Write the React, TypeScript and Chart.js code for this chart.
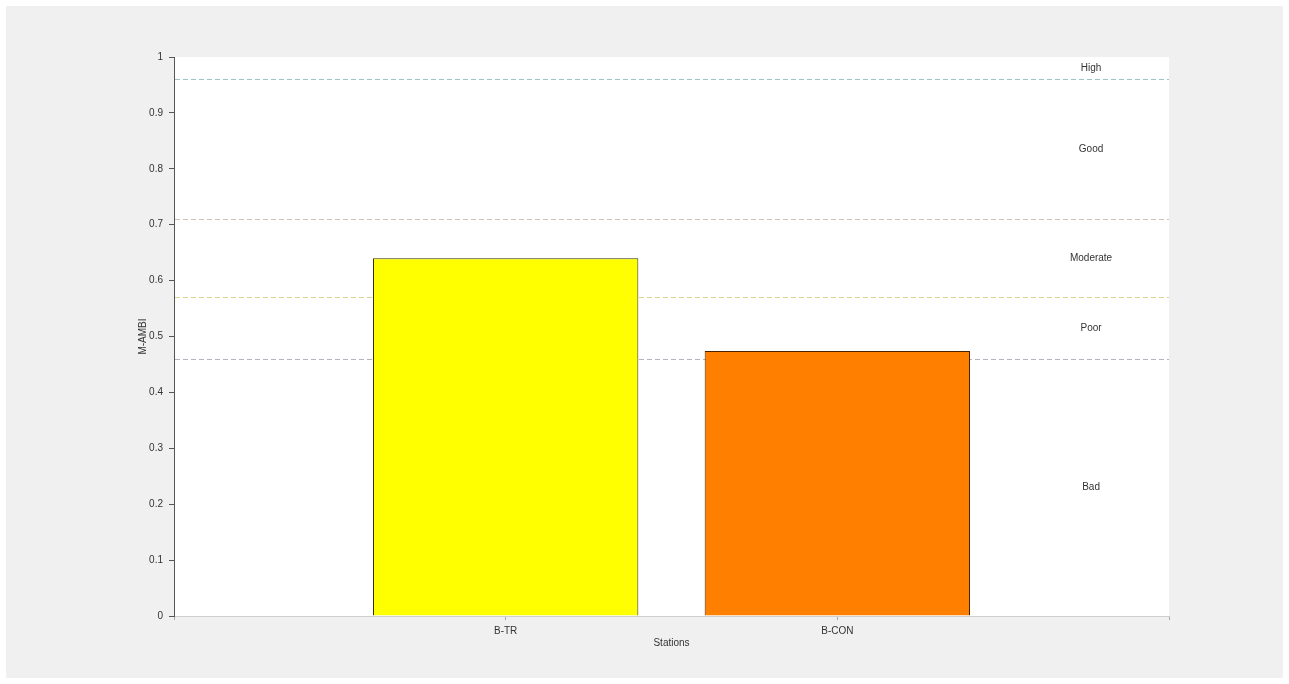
import React, { useEffect, useRef } from "react";
import { Chart, registerables } from "chart.js";

Chart.register(...registerables);

const categories = ["", "B-TR", "B-CON", ""];
const mAmbiValues = [null, 0.64, 0.474, null];
const barColors = ["#ffff00", "#ffff00", "#ff8000", "#ff8000"];
const barBorders = ["#333300", "#333300", "#4a2200", "#4a2200"];

const thresholds = [0.96, 0.71, 0.57, 0.46];
const thresholdColors = ["#9cc4c4", "#d0c6b0", "#d6d68e", "#b8b0bc"];
const bandBounds = [1, 0.96, 0.71, 0.57, 0.46, 0];
const bandLabels = ["High", "Good", "Moderate", "Poor", "Bad"];
const bandLabelX = 2.765;

const yTicks = [0, 0.1, 0.2, 0.3, 0.4, 0.5, 0.6, 0.7, 0.8, 0.9, 1];

const FONT = "'Liberation Sans', Arial, sans-serif";

export default function App() {
  const ref = useRef<HTMLCanvasElement | null>(null);

  useEffect(() => {
    if (!ref.current) return;

    const bgPlugin = {
      id: "plotBg",
      beforeDraw(chart: any) {
        const { ctx, chartArea } = chart;
        ctx.save();
        ctx.fillStyle = "#ffffff";
        ctx.fillRect(chartArea.left, chartArea.top, chartArea.right - chartArea.left, chartArea.bottom - chartArea.top);
        ctx.restore();
      },
    };

    const linesPlugin = {
      id: "thresholdLines",
      beforeDatasetsDraw(chart: any) {
        const { ctx, chartArea, scales } = chart;
        ctx.save();
        ctx.lineWidth = 1;
        ctx.setLineDash([5, 3]);
        thresholds.forEach((t, i) => {
          const y = Math.round(scales.y.getPixelForValue(t)) + 0.5;
          ctx.strokeStyle = thresholdColors[i];
          ctx.beginPath();
          ctx.moveTo(chartArea.left + 1, y);
          ctx.lineTo(chartArea.right, y);
          ctx.stroke();
        });
        ctx.restore();
      },
      afterDraw(chart: any) {
        const { ctx, scales } = chart;
        ctx.save();
        ctx.fillStyle = "#333333";
        ctx.font = `10px ${FONT}`;
        ctx.textAlign = "center";
        ctx.textBaseline = "middle";
        const x = scales.x.getPixelForValue(bandLabelX);
        bandLabels.forEach((lbl, i) => {
          const mid = (bandBounds[i] + bandBounds[i + 1]) / 2;
          ctx.fillText(lbl, x, scales.y.getPixelForValue(mid));
        });
        ctx.restore();
      },
    };

    const chart = new Chart(ref.current, {
      type: "bar",
      data: {
        labels: categories,
        datasets: [
          {
            label: "M-AMBI",
            data: mAmbiValues as any,
            backgroundColor: barColors,
            borderColor: barBorders,
            borderWidth: 1,
            borderSkipped: "bottom",
            categoryPercentage: 1,
            barPercentage: 0.8,
          },
        ],
      },
      options: {
        animation: false,
        responsive: false,
        maintainAspectRatio: false,
        layout: { padding: { left: 0, right: 114, top: 51, bottom: 0 } },
        plugins: {
          legend: { display: false },
          tooltip: { enabled: false },
        },
        scales: {
          x: {
            type: "category",
            offset: false,
            grid: { offset: false, drawOnChartArea: false, drawTicks: true, tickLength: 4, color: "#a8a8a8" },
            border: { color: "#cfcfcf", width: 1 },
            ticks: { color: "#333", font: { family: FONT, size: 10 }, padding: 5, maxRotation: 0, autoSkip: false },
            title: { display: true, text: "Stations", color: "#333", font: { family: FONT, size: 10 }, padding: { top: 0, bottom: 29 } },
            afterFit(scale: any) {
              scale.height = 62;
            },
          },
          y: {
            min: 0,
            max: 1,
            afterBuildTicks(scale: any) {
              scale.ticks = yTicks.map((v) => ({ value: v }));
            },
            grid: { drawOnChartArea: false, drawTicks: true, tickLength: 5, color: "#555" },
            border: { color: "#555", width: 1 },
            ticks: {
              color: "#333",
              font: { family: FONT, size: 10 },
              padding: 6,
              callback: (v: any) => String(Math.round(Number(v) * 10) / 10),
            },
            title: { display: true, text: "M-AMBI", color: "#333", font: { family: FONT, size: 10 }, padding: { top: 131, bottom: 0 } },
            afterFit(scale: any) {
              scale.width = 168;
            },
          },
        },
      },
      plugins: [bgPlugin, linesPlugin],
    });

    return () => chart.destroy();
  }, []);

  return (
    <div style={{ position: "fixed", left: 0, top: 0, width: 1289, height: 684, background: "#ffffff", boxSizing: "border-box", padding: 6 }}>
      <div style={{ width: 1277, height: 672, background: "#f0f0f0" }}>
        <canvas ref={ref} width={1277} height={672} style={{ display: "block", width: 1277, height: 672 }} />
      </div>
    </div>
  );
}
